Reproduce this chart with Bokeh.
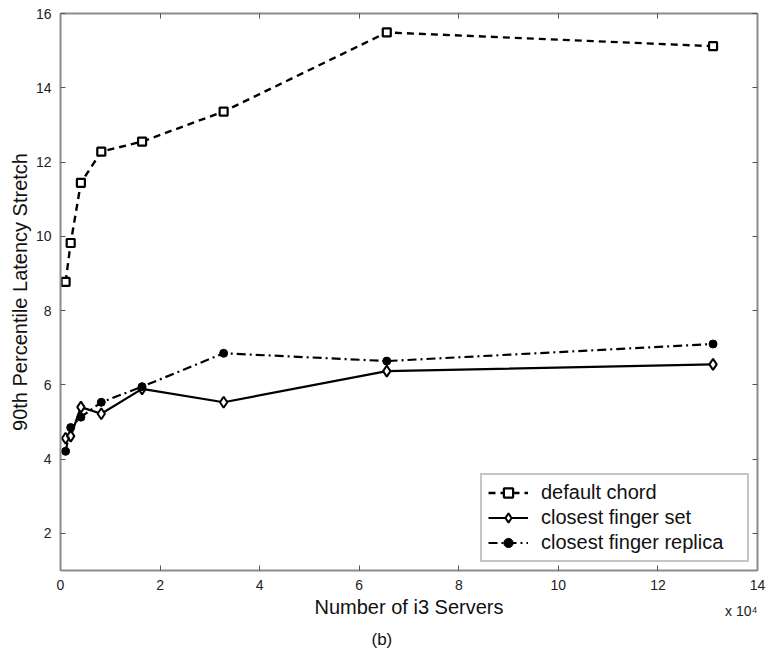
from bokeh.plotting import figure
from bokeh.models import Range1d, LinearAxis, FixedTicker, Legend, LegendItem, Title
from bokeh.embed import file_html
from bokeh.resources import INLINE

# Data (x = number of i3 servers)
servers = [1024, 2048, 4096, 8192, 16384, 32768, 65536, 131072]
default_chord = [8.77, 9.82, 11.44, 12.28, 12.55, 13.36, 15.49, 15.12]
closest_finger_set = [4.56, 4.62, 5.40, 5.22, 5.89, 5.53, 6.37, 6.55]
closest_finger_replica = [4.21, 4.85, 5.13, 5.53, 5.95, 6.85, 6.64, 7.10]

x_ticks = [0, 20000, 40000, 60000, 80000, 100000, 120000, 140000]
x_tick_labels = ["0", "2", "4", "6", "8", "10", "12", "14"]
y_ticks = [2, 4, 6, 8, 10, 12, 14, 16]

FONT = "Liberation Sans"
FRAME = "#8c8c8c"

p = figure(width=768, height=656, output_backend="svg", toolbar_location=None,
           x_range=Range1d(0, 140000), y_range=Range1d(1, 16),
           min_border_left=60, min_border_right=11, min_border_top=13, min_border_bottom=85,
           x_axis_label="Number of i3 Servers", y_axis_label="90th Percentile Latency Stretch")
p.grid.visible = False
p.outline_line_color = None
p.background_fill_color = "white"
p.border_fill_color = "white"

p.xaxis.ticker = FixedTicker(ticks=x_ticks)
p.xaxis.major_label_overrides = {t: l for t, l in zip(x_ticks, x_tick_labels)}
p.yaxis.ticker = FixedTicker(ticks=y_ticks)

for ax in [p.xaxis[0], p.yaxis[0]]:
    ax.axis_line_color = FRAME
    ax.axis_line_width = 2
    ax.major_tick_in = 5
    ax.major_tick_out = 0
    ax.major_tick_line_color = "#555555"
    ax.minor_tick_line_color = None
    ax.major_label_text_font = FONT
    ax.major_label_text_font_size = "14px"
    ax.major_label_text_color = "#222222"
    ax.axis_label_text_font = FONT
    ax.axis_label_text_font_size = "20px"
    ax.axis_label_text_font_style = "normal"
    ax.axis_label_text_color = "#111111"
p.xaxis.major_label_standoff = 9
p.xaxis.axis_label_standoff = 3
p.yaxis.major_label_standoff = 9
p.yaxis.axis_label_standoff = 2

# top and right axes: inward ticks only, no labels
top = LinearAxis(ticker=FixedTicker(ticks=x_ticks), major_label_text_font_size="1px",
                 major_label_text_color=None, major_label_standoff=0,
                 axis_line_color=FRAME, axis_line_width=2, major_tick_in=5, major_tick_out=0,
                 major_tick_line_color="#555555", minor_tick_line_color=None)
right = LinearAxis(ticker=FixedTicker(ticks=y_ticks), major_label_text_font_size="1px",
                   major_label_text_color=None, major_label_standoff=0,
                   axis_line_color=FRAME, axis_line_width=2, major_tick_in=5, major_tick_out=0,
                   major_tick_line_color="#555555", minor_tick_line_color=None)
p.add_layout(top, "above")
p.add_layout(right, "right")

# Series
l1 = p.line(servers, default_chord, line_color="black", line_width=2.4, line_dash="7 5")
m1 = p.scatter(servers, default_chord, marker="square", size=8, fill_color="white",
               line_color="black", line_width=2.2)
l2 = p.line(servers, closest_finger_set, line_color="black", line_width=2.2)
m2 = p.scatter(servers, closest_finger_set, marker="diamond", size=11, fill_color="white",
               line_color="black", line_width=2)
l3 = p.line(servers, closest_finger_replica, line_color="black", line_width=2.2, line_dash="9 4 2 4")
m3 = p.scatter(servers, closest_finger_replica, marker="circle", size=8, fill_color="black",
               line_color="black")

legend = Legend(items=[
    LegendItem(label="default chord", renderers=[l1, m1]),
    LegendItem(label="closest finger set", renderers=[l2, m2]),
    LegendItem(label="closest finger replica", renderers=[l3, m3]),
], location="bottom_right")
legend.label_text_font = FONT
legend.label_text_font_size = "20px"
legend.label_text_color = "#111111"
legend.border_line_color = FRAME
legend.border_line_width = 2
legend.glyph_width = 40
legend.glyph_height = 23
legend.spacing = 2
legend.padding = 6
legend.margin = 8
legend.label_standoff = 13
legend.label_height = 23
legend.label_width = 200
p.add_layout(legend)

exp_title = Title(text="x 10⁴", align="right", vertical_align="top", text_font=FONT,
                  text_font_size="14px", text_font_style="normal", text_color="#222222",
                  standoff=-36)
p.add_layout(exp_title, "below")
cap = Title(text="(b)", align="left", offset=311, text_font=FONT, text_font_size="17px",
            text_font_style="normal", text_color="#111111", standoff=15)
p.add_layout(cap, "below")

open("out.html", "w").write(file_html(p, INLINE))
